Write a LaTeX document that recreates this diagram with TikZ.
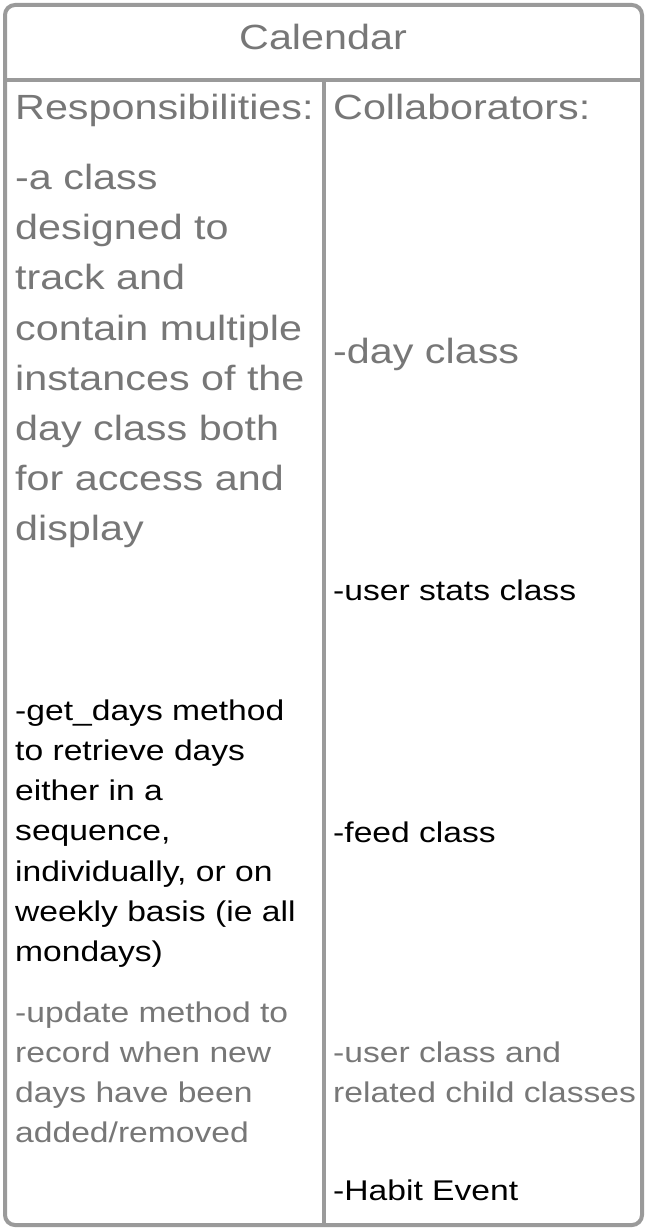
\documentclass[tikz,border=0pt]{standalone}
\usepackage{fontspec}
\setmainfont{Liberation Sans}[FakeStretch=1.18]
\definecolor{cardline}{HTML}{9A9A9A}
\definecolor{softtext}{HTML}{777777}

\begin{document}
\begin{tikzpicture}[x=1pt,y=-1pt]
\tikzset{
    cardframe/.style={draw=cardline, line width=4pt},
    bigtxt/.style={anchor=base west, inner sep=0pt, text=softtext, font=\fontsize{35}{42}\selectfont},
    smalltxt/.style={anchor=base west, inner sep=0pt, font=\fontsize{28.5}{34}\selectfont},
    greytxt/.style={smalltxt, text=softtext},
}
\useasboundingbox (0,0) rectangle (647,1230);

% Card outline and dividers
\draw[cardframe, rounded corners=10pt] (5,5) rectangle (642,1225);
\coordinate (headL) at (5,80);
\coordinate (headR) at (642,80);
\coordinate (splitT) at (324,80);
\coordinate (splitB) at (324,1225);
\draw[cardframe] (headL) -- (headR);
\draw[cardframe] (splitT) -- (splitB);

% Header
\node[anchor=base, inner sep=0pt, text=softtext, font=\fontsize{35}{42}\selectfont] (title) at (323,50) {Calendar};
\node[bigtxt] (resp) at (15,120) {Responsibilities:};
\node[bigtxt] (collab) at (333,120) {Collaborators:};

% Responsibilities
\foreach \t [count=\i] in {-a class, designed to, track and, contain multiple,
    instances of the, day class both, for access and, display}{
    \node[bigtxt] (purpose\i) at (15,{190+50*(\i-1)}) {\t};
}
\foreach \t [count=\i] in {-get\_days method, to retrieve days, either in a, {sequence,},
    {individually, or on}, weekly basis (ie all, mondays)}{
    \node[smalltxt] (getdays\i) at (15,{720+40.3*(\i-1)}) {\t};
}
\foreach \t [count=\i] in {-update method to, record when new, days have been, added/removed}{
    \node[greytxt] (update\i) at (15,{1022+40*(\i-1)}) {\t};
}

% Collaborators
\node[bigtxt] (dayclass) at (333,363) {-day class};
\node[smalltxt] (userstats) at (333,600) {-user stats class};
\node[smalltxt] (feed) at (333,842) {-feed class};
\node[greytxt] (user1) at (333,1062) {-user class and};
\node[greytxt] (user2) at (333,1102) {related child classes};
\node[smalltxt] (habit) at (333,1200) {-Habit Event};

\end{tikzpicture}
\end{document}
